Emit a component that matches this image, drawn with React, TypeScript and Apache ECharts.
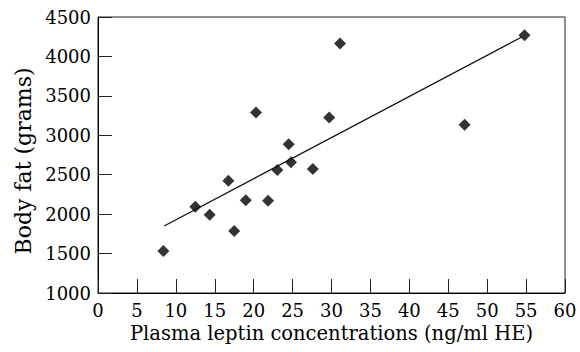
import React, { useEffect, useRef } from "react";
import * as echarts from "echarts";

const leptin = [8.4, 12.5, 14.35, 16.75, 17.5, 18.98, 21.85, 23.05, 24.5, 24.8, 27.6, 29.7, 31.1, 47.1, 54.8, 20.3];
const bodyFat = [1532, 2094, 1992, 2423, 1786, 2175, 2170, 2559, 2885, 2657, 2572, 3227, 4165, 3133, 4268, 3290];
const trendX = [8.5, 54.5];
const trendY = [1850, 4250];

export default function App() {
  const ref = useRef<HTMLDivElement>(null);
  useEffect(() => {
    if (!ref.current) return;
    const chart = echarts.init(ref.current, null, { renderer: "svg" });
    const font = "DejaVu Serif";
    chart.setOption({
      animation: false,
      grid: {
        left: 98,
        right: 15,
        top: 17,
        bottom: 59,
        show: true,
        borderColor: "#222",
        borderWidth: 1,
      },
      xAxis: {
        type: "value",
        min: 0,
        max: 60,
        interval: 5,
        name: "Plasma leptin concentrations (ng/ml HE)",
        nameLocation: "middle",
        nameGap: 29,
        nameTextStyle: { fontFamily: font, fontSize: 19.5, color: "#000" },
        axisLine: { lineStyle: { color: "#000", width: 1 } },
        axisTick: { inside: true, length: 14, lineStyle: { color: "#222" } },
        axisLabel: { fontFamily: font, fontSize: 18, color: "#000", margin: 8, formatter: (v: number) => String(v) },
        splitLine: { show: false },
      },
      yAxis: {
        type: "value",
        min: 1000,
        max: 4500,
        interval: 500,
        name: "Body fat (grams)",
        nameLocation: "middle",
        nameGap: 64,
        nameTextStyle: { fontFamily: font, fontSize: 22, color: "#000", padding: [0, 12, 0, 0] },
        axisLine: { lineStyle: { color: "#000", width: 1 } },
        axisTick: { inside: true, length: 14, lineStyle: { color: "#222" } },
        axisLabel: { fontFamily: font, fontSize: 18, color: "#000", margin: 7, formatter: (v: number) => String(v) },
        splitLine: { show: false },
      },
      series: [
        {
          type: "line",
          data: trendX.map((x, i) => [x, trendY[i]]),
          showSymbol: false,
          symbol: "none",
          lineStyle: { color: "#111", width: 1.3 },
          silent: true,
        },
        {
          type: "scatter",
          data: leptin.map((x, i) => [x, bodyFat[i]]),
          symbol: "diamond",
          symbolSize: 12,
          itemStyle: { color: "#000" },
        },
      ],
    });
    return () => chart.dispose();
  }, []);
  return <div ref={ref} style={{ width: 580, height: 352, position: "absolute", left: 0, top: 0 }} />;
}
